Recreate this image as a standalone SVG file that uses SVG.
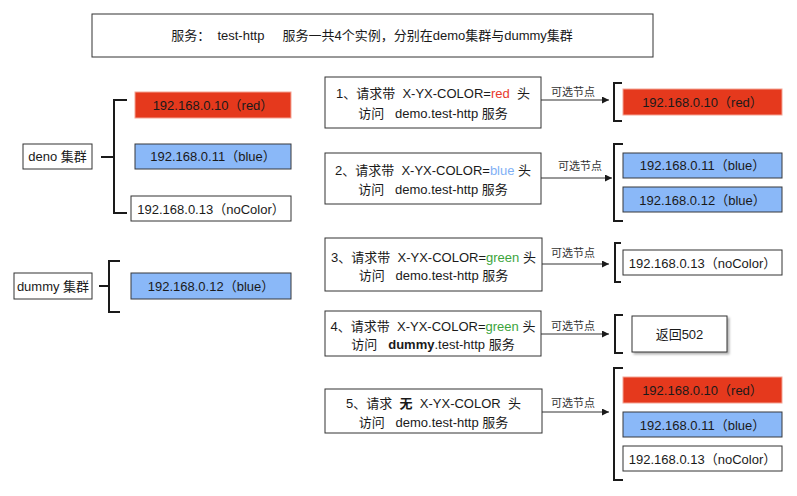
<svg xmlns="http://www.w3.org/2000/svg" width="797" height="496" viewBox="0 0 797 496">
<defs>
<style>
text{font-family:"Liberation Sans","Noto Sans CJK SC",sans-serif;font-size:13px;fill:#1a1a1a;white-space:pre}
.lbl{font-size:11px;fill:#333}
.box{fill:#fff;stroke:#333;stroke-width:1}
.red{fill:#E5391D;stroke:#F4A394;stroke-width:1}
.blue{fill:#8AB8F8;stroke:#36393d;stroke-width:1}
.brk{fill:none;stroke:#1a1a1a;stroke-width:2}
.ln{fill:none;stroke:#333;stroke-width:1}
.tr{fill:#E8392B}.tb{fill:#7FB0F5}.tg{fill:#3CA43C}
</style>
<marker id="ah" viewBox="0 0 10 10" refX="10" refY="5" markerWidth="7" markerHeight="7" orient="auto" markerUnits="userSpaceOnUse"><path d="M0,0 L10,5 L0,10 z" fill="#1a1a1a"/></marker>
<filter id="sh" x="-10%" y="-10%" width="130%" height="140%"><feDropShadow dx="2" dy="2" stdDeviation="1.2" flood-color="#000" flood-opacity="0.3"/></filter>
</defs>
<rect width="797" height="496" fill="#fff"/>

<g id="title"><rect class="box" x="92" y="14" width="561" height="43"/><text x="372" y="40" text-anchor="middle">服务：  test-http     服务一共4个实例，分别在demo集群与dummy集群</text></g>

<g id="deno"><rect class="box" x="23" y="144" width="69" height="25"/><text x="57.5" y="161" text-anchor="middle">deno 集群</text></g>
<g id="deno-red"><rect class="red" x="135" y="92" width="156" height="26"/><text x="213" y="110" text-anchor="middle">192.168.0.10（red）</text></g>
<g id="deno-blue"><rect class="blue" x="135" y="144" width="156" height="25"/><text x="213" y="161" text-anchor="middle">192.168.0.11（blue）</text></g>
<g id="deno-nocolor"><rect class="box" x="131" y="196" width="160" height="25"/><text x="211" y="214" text-anchor="middle">192.168.0.13（noColor）</text></g>

<g id="dummy"><rect class="box" x="14" y="273" width="78" height="26"/><text x="53" y="291" text-anchor="middle">dummy 集群</text></g>
<g id="dummy-blue"><rect class="blue" x="131" y="273" width="160" height="26"/><text x="211" y="291" text-anchor="middle">192.168.0.12（blue）</text></g>

<g id="req1"><rect class="box" x="325" y="77" width="216" height="51"/><text x="433" y="97.5" text-anchor="middle">1、请求带  X-YX-COLOR=<tspan class="tr">red</tspan>  头</text><text x="433" y="117.5" text-anchor="middle">访问   demo.test-http 服务</text></g>
<g id="req2"><rect class="box" x="325" y="153" width="216" height="51"/><text x="433" y="174.5" text-anchor="middle">2、请求带  X-YX-COLOR=<tspan class="tb">blue</tspan> 头</text><text x="433" y="193.5" text-anchor="middle">访问   demo.test-http 服务</text></g>
<g id="req3"><rect class="box" x="325" y="238" width="217" height="53"/><text x="433.5" y="261.5" text-anchor="middle">3、请求带  X-YX-COLOR=<tspan class="tg">green</tspan> 头</text><text x="433.5" y="279.5" text-anchor="middle">访问   demo.test-http 服务</text></g>
<g id="req4"><rect class="box" x="325" y="311" width="216" height="45"/><text x="433" y="330.5" text-anchor="middle">4、请求带  X-YX-COLOR=<tspan class="tg">green</tspan> 头</text><text x="433" y="348.5" text-anchor="middle">访问   <tspan font-weight="bold">dummy</tspan>.test-http 服务</text></g>
<g id="req5"><rect class="box" x="325" y="389" width="217" height="44"/><text x="433.5" y="407.5" text-anchor="middle">5、请求  <tspan font-weight="bold">无</tspan>  X-YX-COLOR  头</text><text x="433.5" y="426.5" text-anchor="middle">访问   demo.test-http 服务</text></g>

<g id="r1-red"><rect class="red" x="623" y="89" width="159" height="26"/><text x="702.5" y="107" text-anchor="middle">192.168.0.10（red）</text></g>
<g id="r2-blue11"><rect class="blue" x="623" y="153" width="159" height="25"/><text x="702.5" y="170" text-anchor="middle">192.168.0.11（blue）</text></g>
<g id="r2-blue12"><rect class="blue" x="623" y="187" width="159" height="25"/><text x="702.5" y="205" text-anchor="middle">192.168.0.12（blue）</text></g>
<g id="r3-nocolor"><rect class="box" x="623" y="250" width="159" height="25"/><text x="702.5" y="268" text-anchor="middle">192.168.0.13（noColor）</text></g>
<g id="r4-502"><rect class="box" x="632" y="316" width="95" height="36" filter="url(#sh)"/><text x="679.5" y="339" text-anchor="middle">返回502</text></g>
<g id="r5-red"><rect class="red" x="623" y="377" width="159" height="26"/><text x="702.5" y="395" text-anchor="middle">192.168.0.10（red）</text></g>
<g id="r5-blue"><rect class="blue" x="623" y="412" width="159" height="25"/><text x="702.5" y="430" text-anchor="middle">192.168.0.11（blue）</text></g>
<g id="r5-nocolor"><rect class="box" x="623" y="446" width="159" height="25"/><text x="702.5" y="464" text-anchor="middle">192.168.0.13（noColor）</text></g>

<g id="connectors">
<path class="brk" d="M127,100 H114 V213 H127 M101,157 H114"/>
<path class="brk" d="M120,261 H109 V312 H120 M99,286 H109"/>
<path class="brk" d="M622,83 H614 V121 H622"/>
<path class="brk" d="M623,144 H614 V221 H623"/>
<path class="brk" d="M621,243 H615 V282 H621"/>
<path class="brk" d="M623,315 H615 V353 H623"/>
<path class="brk" d="M623,368 H614 V480 H623"/>
<path class="ln" d="M541,100 H609" marker-end="url(#ah)"/>
<path class="ln" d="M541,178 H612" marker-end="url(#ah)"/>
<path class="ln" d="M542,264 H609" marker-end="url(#ah)"/>
<path class="ln" d="M541,334 H609" marker-end="url(#ah)"/>
<path class="ln" d="M542,412 H609" marker-end="url(#ah)"/>
<text class="lbl" x="573" y="96" text-anchor="middle">可选节点</text>
<text class="lbl" x="580" y="170" text-anchor="middle">可选节点</text>
<text class="lbl" x="573" y="257" text-anchor="middle">可选节点</text>
<text class="lbl" x="573" y="330" text-anchor="middle">可选节点</text>
<text class="lbl" x="573" y="407" text-anchor="middle">可选节点</text>
</g>
</svg>
